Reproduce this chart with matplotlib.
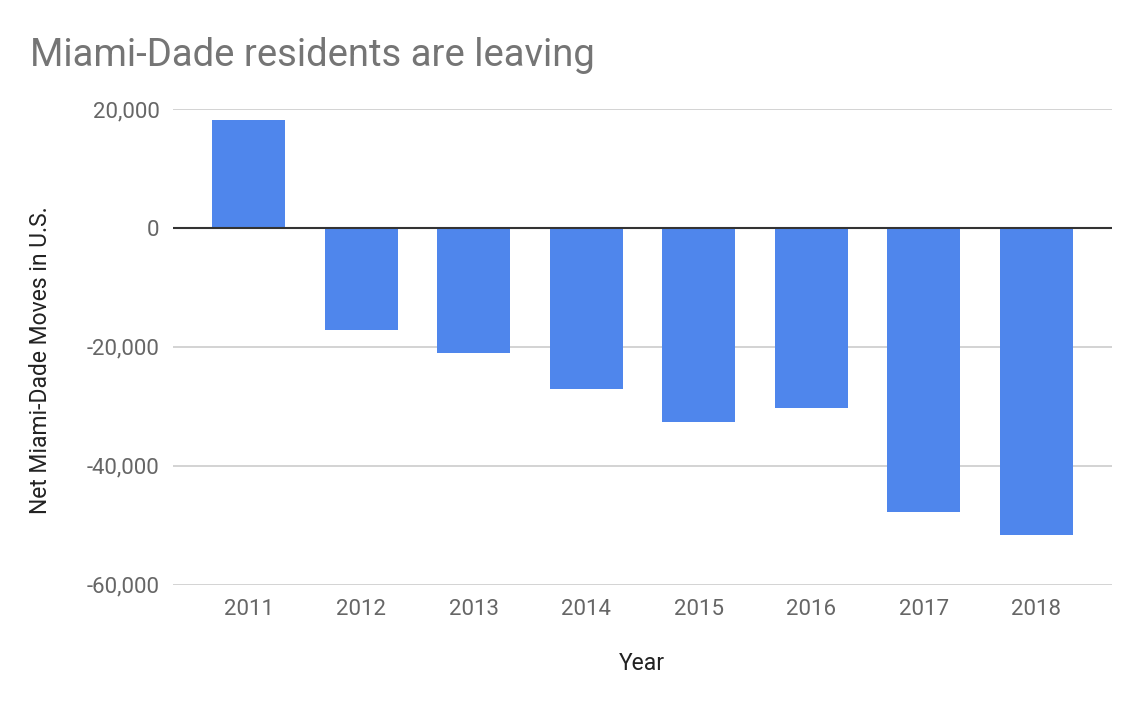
import matplotlib
matplotlib.use("Agg")
import matplotlib.pyplot as plt
from matplotlib.ticker import FuncFormatter

years = ["2011", "2012", "2013", "2014", "2015", "2016", "2017", "2018"]
net_moves = [18200, -17100, -21000, -27100, -32600, -30300, -47700, -51600]
y_ticks = [20000, 0, -20000, -40000, -60000]

plt.rcParams['font.family'] = ['Roboto', 'DejaVu Sans']

fig = plt.figure(figsize=(11.4, 7.08), dpi=100)
ax = fig.add_axes([0.152, 0.174, 0.823, 0.672])

x = list(range(len(years)))
ax.bar(x, net_moves, width=0.65, color='#4f86ec', zorder=3)

ax.set_xlim(-0.67, 7.67)
ax.set_ylim(-60000, 20000)
ax.set_yticks(y_ticks)
ax.yaxis.set_major_formatter(FuncFormatter(lambda v, p: f"{int(v):,}"))
ax.set_xticks(x)
ax.set_xticklabels(years)

ax.grid(axis='y', color='#cccccc', linewidth=1.2, zorder=0)
ax.axhline(0, color='#333333', linewidth=1.5, zorder=4)
for s in ax.spines.values():
    s.set_visible(False)
ax.tick_params(axis='both', length=0, labelsize=16, colors='#666666')
ax.tick_params(axis='y', pad=10)
ax.tick_params(axis='x', pad=10)

# подписи осей ставим вручную, как в исходнике
ax.set_xlabel("Year", fontsize=16.5, color='#222222', va='center')
ax.xaxis.set_label_coords(0.5, -0.166)
ax.set_ylabel("Net Miami-Dade Moves in U.S.", fontsize=16.5, color='#222222',
              va='center', ha='center', rotation_mode='default')
ax.yaxis.set_label_coords(-0.1416, 0.4727)

fig.text(0.026, 0.907, "Miami-Dade residents are leaving", fontsize=27.5,
         color='#757575', va='baseline', ha='left')

fig.savefig("out.png", dpi=100)
